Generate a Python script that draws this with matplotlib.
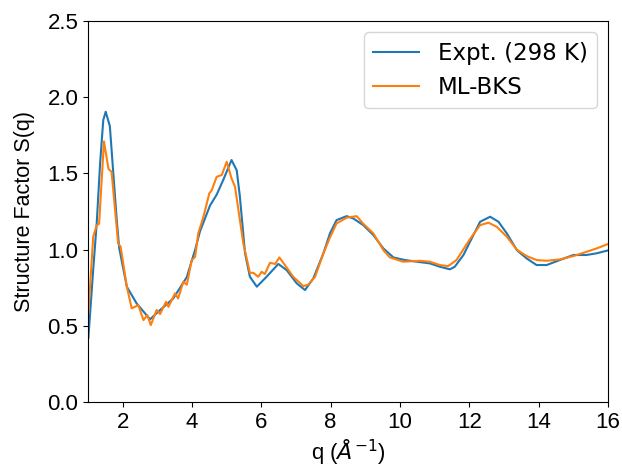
import numpy as np
import matplotlib
matplotlib.use("Agg")
import matplotlib.pyplot as plt

# -------------------------
# Datos
# -------------------------
q_expt = [1.01, 1.15, 1.25, 1.35, 1.44, 1.51, 1.63, 1.73, 1.83, 1.90, 2.12, 2.40, 2.79,
          3.08, 3.46, 3.85, 4.09, 4.23, 4.52, 4.71, 4.90, 5.14, 5.29, 5.38, 5.53, 5.67,
          5.87, 6.15, 6.49, 6.73, 7.02, 7.26, 7.50, 7.79, 7.98, 8.17, 8.46, 8.65, 8.94,
          9.23, 9.52, 9.81, 10.14, 10.48, 10.86, 11.15, 11.44, 11.58, 11.83, 12.02,
          12.31, 12.60, 12.84, 13.08, 13.37, 13.65, 13.94, 14.23, 14.61, 15.00, 15.38,
          15.67, 16.0]
s_expt = [0.42, 0.87, 1.17, 1.57, 1.85, 1.905, 1.81, 1.50, 1.19, 1.01, 0.757, 0.648, 0.543,
          0.604, 0.68, 0.82, 1.00, 1.12, 1.29, 1.36, 1.457, 1.588, 1.52, 1.35, 0.976, 0.822,
          0.757, 0.822, 0.906, 0.866, 0.779, 0.735, 0.812, 0.976, 1.107, 1.194, 1.22, 1.205,
          1.161, 1.096, 1.008, 0.949, 0.932, 0.921, 0.91, 0.888, 0.871, 0.888, 0.965, 1.052,
          1.183, 1.216, 1.183, 1.107, 0.997, 0.943, 0.899, 0.899, 0.932, 0.965, 0.965,
          0.976, 0.995]

q_ml = [1.01, 1.15, 1.25, 1.32, 1.46, 1.59, 1.68, 1.87, 1.94, 2.12, 2.26, 2.45, 2.60, 2.71,
        2.81, 2.98, 3.08, 3.25, 3.32, 3.51, 3.60, 3.75, 3.85, 3.99, 4.09, 4.18, 4.33, 4.50,
        4.57, 4.71, 4.86, 5.00, 5.14, 5.24, 5.48, 5.67, 5.77, 5.91, 6.01, 6.10, 6.25, 6.40,
        6.52, 6.68, 6.92, 7.21, 7.35, 7.55, 7.79, 7.98, 8.17, 8.46, 8.75, 8.94, 9.23, 9.52,
        9.71, 10.09, 10.58, 10.86, 11.15, 11.39, 11.63, 12.02, 12.31, 12.55, 12.79, 13.08,
        13.37, 13.65, 13.94, 14.23, 14.61, 15.00, 15.38, 15.67, 16.0]
s_ml = [0.58, 1.085, 1.16, 1.17, 1.71, 1.53, 1.51, 1.04, 1.02, 0.757, 0.615, 0.636, 0.538,
        0.571, 0.505, 0.604, 0.578, 0.658, 0.625, 0.713, 0.68, 0.79, 0.77, 0.93, 0.953,
        1.107, 1.216, 1.37, 1.39, 1.478, 1.49, 1.577, 1.468, 1.413, 1.041, 0.848, 0.848,
        0.822, 0.855, 0.84, 0.914, 0.906, 0.949, 0.899, 0.822, 0.761, 0.77, 0.822, 0.976,
        1.08, 1.172, 1.21, 1.22, 1.17, 1.107, 0.997, 0.949, 0.921, 0.927, 0.921, 0.899,
        0.892, 0.932, 1.07, 1.161, 1.177, 1.15, 1.085, 1.0, 0.958, 0.932, 0.927, 0.936,
        0.958, 0.986, 1.008, 1.037]

# -------------------------
# Grafica
# -------------------------
fig = plt.figure(figsize=(6.22, 4.67), dpi=100)
ax = fig.add_axes([0.1415, 0.139, 0.836, 0.816])

ax.plot(q_expt, s_expt, label='Expt. (298 K)')
ax.plot(q_ml, s_ml, label='ML-BKS')

ax.set_xlim(1, 16)
ax.set_ylim(0, 2.5)
ax.set_xticks([2, 4, 6, 8, 10, 12, 14, 16])
ax.set_yticks([0.0, 0.5, 1.0, 1.5, 2.0, 2.5])

tick_font = 'Liberation Sans'
for lab in ax.get_xticklabels() + ax.get_yticklabels():
    lab.set_fontname(tick_font)
    lab.set_fontsize(16)

ax.set_xlabel(r'q ($\AA^{-1}$)', fontname=tick_font, fontsize=16, labelpad=3)
ax.set_ylabel('Structure Factor S(q)', fontname=tick_font, fontsize=15.5, labelpad=9)
ax.legend(fontsize=16.5, loc='upper right')

fig.savefig('out.png', dpi=100)
